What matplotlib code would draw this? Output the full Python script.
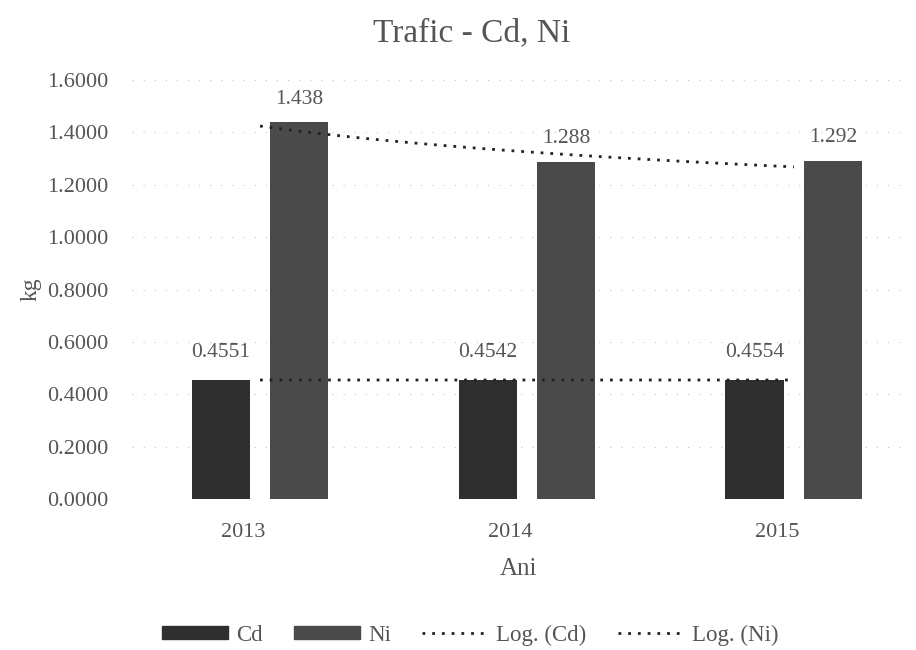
import numpy as np
import matplotlib.pyplot as plt
from matplotlib.patches import Patch
from matplotlib.lines import Line2D
from matplotlib.transforms import ScaledTranslation

plt.rcParams['font.family'] = ['Liberation Serif', 'DejaVu Serif']

# date
ani = ['2013', '2014', '2015']
cd = [0.4551, 0.4542, 0.4554]
ni = [1.438, 1.288, 1.292]
cd_labels = ['0.4551', '0.4542', '0.4554']
ni_labels = ['1.438', '1.288', '1.292']
yticks = [0.0, 0.2, 0.4, 0.6, 0.8, 1.0, 1.2, 1.4, 1.6]

text_col = '#555555'
cd_col = '#2f2f2f'
ni_col = '#4a4a4a'
trend_col = '#222222'

fig = plt.figure(figsize=(9.16, 6.5), dpi=100)
ax = fig.add_axes([0.144, 0.232, 0.845, 0.645])

x = np.arange(len(ani))
w = 0.218
off = 0.147

ax.bar(x - off, cd, w, color=cd_col, zorder=2)
ax.bar(x + off, ni, w, color=ni_col, zorder=2)

for xi, v, lab in zip(x - off, cd, cd_labels):
    ax.annotate(lab, (xi, v), xytext=(0, 13), textcoords='offset points',
                ha='center', va='bottom', fontsize=15.5, color=text_col)
for xi, v, lab in zip(x + off, ni, ni_labels):
    ax.annotate(lab, (xi, v), xytext=(0, 10), textcoords='offset points',
                ha='center', va='bottom', fontsize=15.5, color=text_col)

# trendline logaritmic (ca in Excel: y = a*ln(x) + b, x = 1..3)
xs = np.linspace(1, 3, 100)
lnx = np.log(np.arange(1, len(ani) + 1))
a_cd, b_cd = np.polyfit(lnx, cd, 1)
a_ni, b_ni = np.polyfit(lnx, ni, 1)
ax.plot(xs - 1, a_cd * np.log(xs) + b_cd, color=trend_col, lw=2,
        linestyle=(0, (1, 2.5)), zorder=3)
ax.plot(xs - 1, a_ni * np.log(xs) + b_ni, color=trend_col, lw=2,
        linestyle=(0, (1, 2.5)), zorder=3)

ax.set_xlim(-0.48, 2.42)
ax.set_ylim(0, 1.6)
ax.set_yticks(yticks)
ax.set_yticklabels([f'{t:.4f}' for t in yticks])
ax.set_xticks(x)
ax.set_xticklabels(ani)
ax.tick_params(length=0, labelsize=16, colors=text_col)
ax.tick_params(axis='y', pad=17)
ax.tick_params(axis='x', pad=17)
# etichetele anilor sunt putin deplasate la stanga in original
for lab in ax.get_xticklabels():
    lab.set_transform(lab.get_transform() + ScaledTranslation(-0.17, 0, fig.dpi_scale_trans))
for s in ax.spines.values():
    s.set_visible(False)
ax.yaxis.grid(True, color='#c4c4c4', linestyle=(0, (1, 9)), lw=0.8, zorder=0)

ax.set_xlabel('Ani', fontsize=18, color=text_col, labelpad=12)
ax.set_ylabel('kg', fontsize=17, color=text_col, labelpad=4)
fig.text(472 / 916, 1 - 33 / 650, 'Trafic - Cd, Ni', fontsize=24,
         color=text_col, ha='center', va='center')

handles = [Patch(color=cd_col), Patch(color=ni_col),
           Line2D([], [], color=trend_col, lw=2, linestyle=(0, (1, 2.5))),
           Line2D([], [], color=trend_col, lw=2, linestyle=(0, (1, 2.5)))]
fig.legend(handles, ['Cd', 'Ni', 'Log. (Cd)', 'Log. (Ni)'], loc='center',
           bbox_to_anchor=(470 / 916, 0.023), ncol=4, frameon=False, fontsize=16.5,
           labelcolor=text_col, handlelength=2.9, handleheight=0.45,
           columnspacing=1.35, handletextpad=0.35)

fig.savefig('out.png', dpi=100)
